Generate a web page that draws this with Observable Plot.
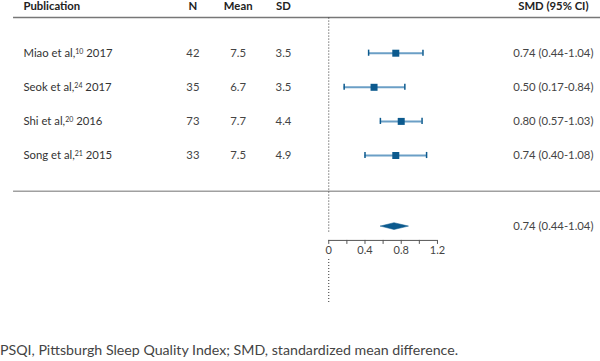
<!DOCTYPE html>
<html>
<head>
<meta charset="utf-8">
<script src="https://cdn.jsdelivr.net/npm/d3@7"></script>
<script src="https://cdn.jsdelivr.net/npm/@observablehq/plot@0.6"></script>
<style>
  html, body { margin: 0; padding: 0; background: #fff; }
  #chart svg { display: block; }
  #caption { font-family: Lato, sans-serif; font-size: 14.2px; line-height: 20px; color: #444; margin: 0; padding: 0; white-space: nowrap; }
</style>
</head>
<body>
<div id="chart"></div>
<div id="caption">PSQI, Pittsburgh Sleep Quality Index; SMD, standardized mean difference.</div>
<script>
// ---- data ----
const authors = ["Miao et al", "Seok et al", "Shi et al", "Song et al"];
const refs = ["10", "24", "20", "21"];
const years = ["2017", "2017", "2016", "2015"];
const nValues = [42, 35, 73, 33];
const means = [7.5, 6.7, 7.7, 7.5];
const sds = [3.5, 3.5, 4.4, 4.9];
const smd = [0.74, 0.50, 0.80, 0.74];
const ciLow = [0.44, 0.17, 0.57, 0.40];
const ciHigh = [1.04, 0.84, 1.03, 1.08];
const pooledLabel = "0.74 (0.44-1.04)";
const pooledDiamond = [0.57, 0.72, 0.88]; // left, centre, right as drawn
const headers = ["Publication", "N", "Mean", "SD", "SMD (95% CI)"];
const axisTicks = [0, 0.2, 0.4, 0.6, 0.8, 1.0, 1.2];
const axisLabels = [0, 0.4, 0.8, 1.2];

// ---- layout (row units / column positions in x units) ----
const colPub = -3.37, colN = -1.50, colMean = -1.0, colSD = -0.5, colSMD = 2.48;
const rowHeader = -1.36, lineTop = -1.05, lineBottom = 4.05, rowPooled = 5.07;
const axisRow = 5.49, dotTop = -1.03, dotBreakTop = 5.3, dotBreakBottom = 6.05, dotBottom = 7.35;
const lineLeft = -3.48, lineRight = 3.0;

const rows = authors.map((a, i) => ({
  i, author: a, ref: refs[i], year: years[i], n: nValues[i], mean: means[i], sd: sds[i],
  smd: smd[i], lo: ciLow[i], hi: ciHigh[i],
  label: `${smd[i].toFixed(2)} (${ciLow[i].toFixed(2)}-${ciHigh[i].toFixed(2)})`
}));
const headerCols = [colPub, colN, colMean, colSD, colSMD];
const headerData = headers.map((h, i) => ({h, x: headerCols[i]}));
const h = 3.4 / 34.1;
const diamond = [
  {x: pooledDiamond[0], y: rowPooled},
  {x: pooledDiamond[1], y: rowPooled - h},
  {x: pooledDiamond[2], y: rowPooled},
  {x: pooledDiamond[1], y: rowPooled + h},
  {x: pooledDiamond[0], y: rowPooled}
];

const font = "Lato, sans-serif";
const dark = "#0c5a8e", light = "#6b9fc6";

const plot = Plot.plot({
  width: 600, height: 340,
  marginTop: 0, marginBottom: 0, marginLeft: 0, marginRight: 0,
  style: {fontFamily: font, fontSize: "11.3px", color: "#333", background: "#fff", overflow: "visible"},
  x: {type: "linear", domain: [-3.624, 3.0], axis: null},
  y: {type: "linear", domain: [-52.7 / 34.1, (340 - 52.7) / 34.1], reverse: true, axis: null},
  marks: [
    // header & separator lines
    Plot.ruleY([lineTop], {x1: lineLeft, x2: lineRight, stroke: "#777", strokeWidth: 1.5}),
    Plot.ruleY([lineBottom], {x1: lineLeft, x2: lineRight, stroke: "#a0a0a0", strokeWidth: 1.5}),
    // null line
    Plot.ruleX([0], {y1: dotTop, y2: dotBreakTop, stroke: "#333", strokeDasharray: "1,2"}),
    Plot.ruleX([0], {y1: dotBreakBottom, y2: dotBottom, stroke: "#333", strokeDasharray: "1,2"}),
    // headers
    Plot.text(headerData.slice(0, 1), {x: "x", y: rowHeader, text: "h", textAnchor: "start", fontWeight: "bold", fill: "#222"}),
    Plot.text(headerData.slice(1), {x: "x", y: rowHeader, text: "h", textAnchor: "middle", fontWeight: "bold", fill: "#222"}),
    // study labels
    Plot.text(rows, {x: colPub, y: "i", text: d => `${d.author}, ${d.year}`, textAnchor: "start", fill: "#333"}),
    Plot.text(rows, {x: colN, y: "i", text: d => String(d.n), fill: "#444"}),
    Plot.text(rows, {x: colMean, y: "i", text: d => d.mean.toFixed(1), fill: "#444"}),
    Plot.text(rows, {x: colSD, y: "i", text: d => d.sd.toFixed(1), fill: "#444"}),
    Plot.text(rows, {x: colSMD, y: "i", text: "label", fill: "#444"}),
    Plot.text([pooledLabel], {x: colSMD, y: rowPooled, text: d => d, fill: "#444"}),
    // CIs
    Plot.ruleY(rows, {y: "i", x1: "lo", x2: "hi", stroke: light, strokeWidth: 2}),
    Plot.ruleX(rows, {x: "lo", y1: d => d.i - 0.09, y2: d => d.i + 0.09, stroke: dark, strokeWidth: 1.5}),
    Plot.ruleX(rows, {x: "hi", y1: d => d.i - 0.09, y2: d => d.i + 0.09, stroke: dark, strokeWidth: 1.5}),
    Plot.dot(rows, {x: "smd", y: "i", symbol: "square", r: 3.95, fill: dark, stroke: "none"}),
    // pooled diamond
    Plot.line(diamond, {x: "x", y: "y", fill: dark, stroke: dark, strokeWidth: 0.5, curve: "linear"}),
    // axis
    Plot.ruleY([axisRow], {x1: axisTicks[0], x2: axisTicks[axisTicks.length - 1], stroke: "#555", strokeWidth: 1}),
    Plot.ruleX(axisTicks, {x: d => d, y1: axisRow, y2: axisRow + 4 / 34.1, stroke: "#555", strokeWidth: 1}),
    Plot.text(axisLabels, {x: d => d, y: axisRow + 10.5 / 34.1, text: d => String(d), fill: "#444", fontSize: 11})
  ]
});

document.getElementById("chart").appendChild(plot);

// add superscript reference numbers to publication labels
const labelMap = new Map(rows.map(d => [`${d.author}, ${d.year}`, d]));
d3.select(plot).selectAll("text").each(function() {
  const d = labelMap.get(this.textContent);
  if (!d) return;
  const t = d3.select(this);
  t.text(null);
  t.append("tspan").text(d.author + ",");
  t.append("tspan").attr("font-size", "7px").attr("dy", "-0.45em").text(d.ref);
  t.append("tspan").attr("dy", "0.3em").text(" " + d.year);
});
</script>
</body>
</html>
